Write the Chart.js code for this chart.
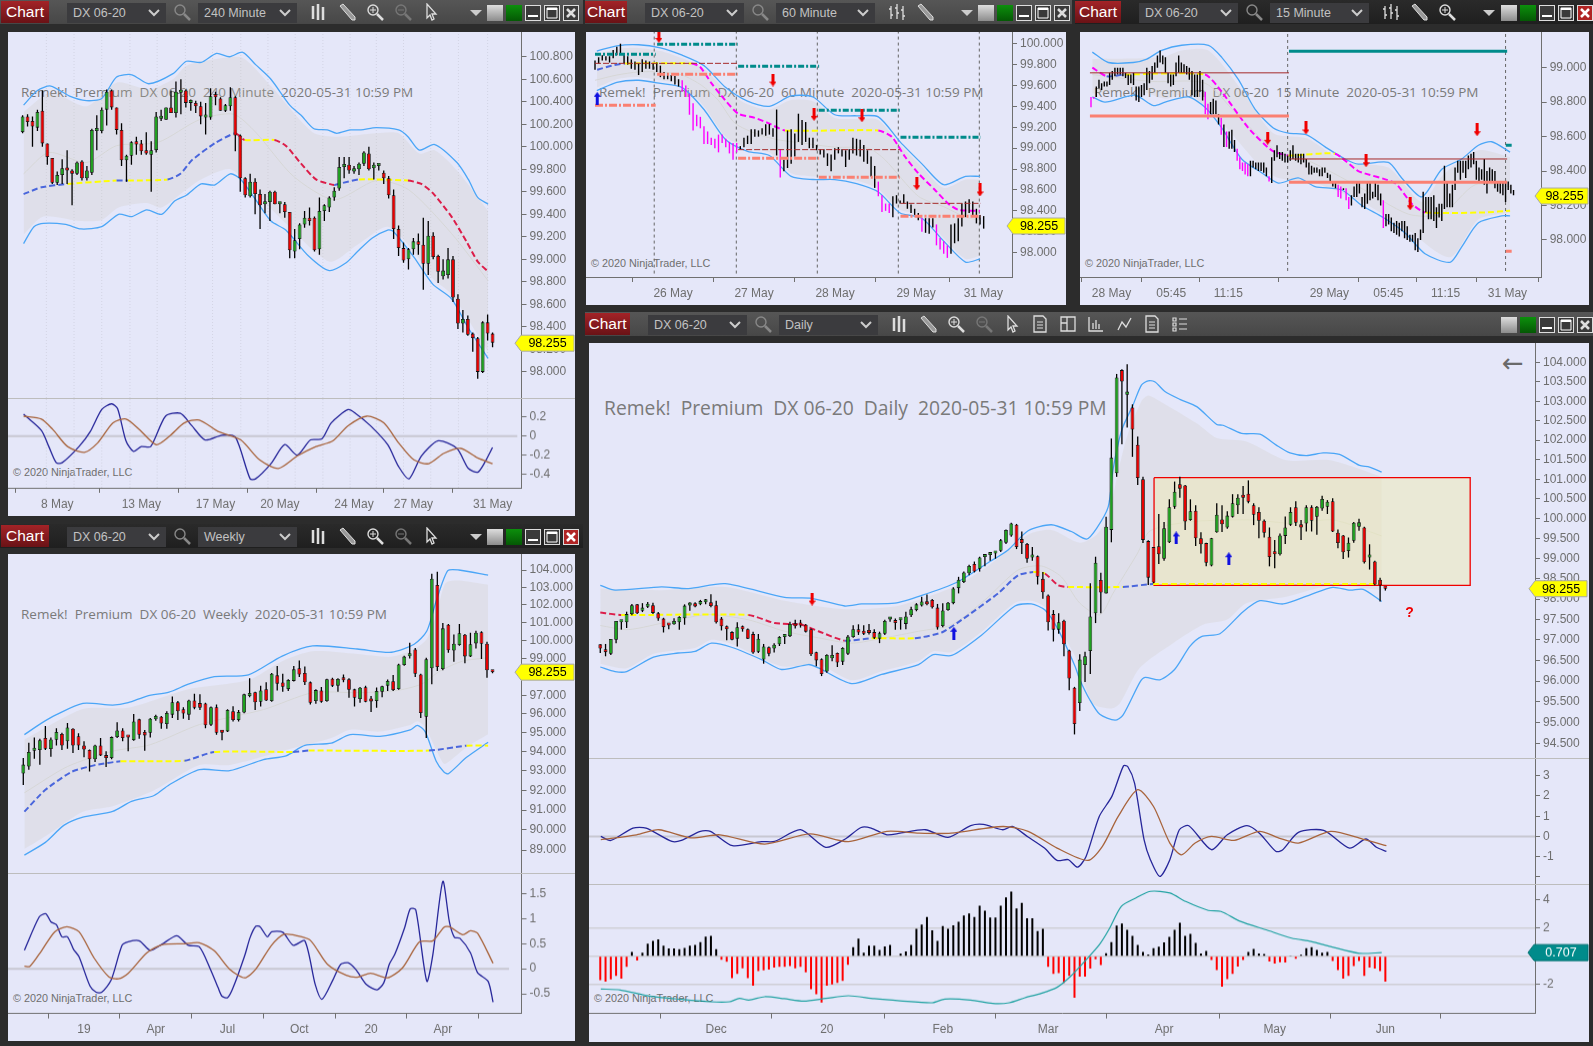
<!DOCTYPE html>
<html>
<head>
<meta charset="utf-8">
<title>DX 06-20</title>
<script src="https://cdn.jsdelivr.net/npm/chart.js@4/dist/chart.umd.js"></script>
<style>
  body { margin:0; width:1593px; height:1046px; overflow:hidden; background:#2c2c2c; font-family:"Liberation Sans",Arial,sans-serif; }
  .panel, .bar, .cmb, .btn, .ic, .wm, .cr, canvas, .back { position:absolute; }
  .panel { background:#e5e7f9; }
  .bar { background:linear-gradient(#565656,#474747); }
  .bar.on { background:linear-gradient(#2a2a2a,#1f1f1f); }
  .btn { background:linear-gradient(#a32327,#6a1216); color:#fff; font-size:15.5px; line-height:21px; text-align:center; }
  .cmb { background:#3b3b3e; color:#c2c2c2; font-size:12.5px; line-height:20px; padding-left:6px; box-sizing:border-box; }
  .wm { color:#7a7a7a; white-space:pre; font-family:"Open Sans",sans-serif; line-height:1; }
  .cr { color:#6e6e6e; font-size:10.8px; white-space:pre; }
  .back { color:#6a6a6a; font:26px "DejaVu Sans"; }
</style>
</head>
<body>
<script>
// shared
const lastPrice = 98.255;
const lastText = '98.255';
const stamp = '2020-05-31 10:59 PM';

// 240 Minute
const h4Open = [100.13,100.27,100.23,100.17,100.32,100.03,99.90,99.68,99.75,99.80,99.79,99.76,99.87,99.72,99.77,100.14,100.14,100.33,100.50,100.35,100.15,99.88,99.92,100.05,100.03,99.97,99.93,99.97,100.25,100.24,100.35,100.30,100.48,100.50,100.39,100.39,100.36,100.26,100.26,100.45,100.43,100.32,100.36,100.44,100.10,99.72,99.56,99.69,99.58,99.49,99.51,99.60,99.49,99.49,99.42,99.07,99.18,99.31,99.37,99.37,99.09,99.43,99.46,99.55,99.63,99.82,99.84,99.78,99.80,99.85,99.94,99.81,99.83,99.77,99.72,99.57,99.27,99.10,99.00,99.09,99.16,99.13,98.96,99.21,99.03,98.85,98.86,99.00,98.65,98.43,98.47,98.34,98.30,98.00,98.44,98.34];
const h4High = [100.28,100.29,100.27,100.33,100.50,100.03,99.90,99.78,99.89,99.97,99.80,99.87,99.88,99.83,100.16,100.28,100.35,100.51,100.51,100.35,100.21,99.93,100.05,100.09,100.06,100.13,100.05,100.31,100.33,100.35,100.50,100.58,100.60,100.51,100.42,100.41,100.40,100.39,100.52,100.49,100.44,100.38,100.53,100.45,100.11,99.73,99.76,99.72,99.62,99.58,99.61,99.61,99.51,99.51,99.42,99.27,99.32,99.43,99.46,99.38,99.55,99.49,99.56,99.64,99.91,99.91,99.91,99.83,99.86,99.96,100.00,99.86,99.84,99.79,99.74,99.62,99.30,99.15,99.10,99.19,99.23,99.37,99.34,99.24,99.04,99.00,99.10,99.03,98.69,98.55,98.50,98.35,98.31,98.45,98.51,98.35];
const h4Low = [100.12,100.18,100.00,100.14,100.00,99.84,99.67,99.66,99.67,99.67,99.48,99.75,99.70,99.70,99.75,99.97,100.12,100.19,100.33,100.11,99.83,99.69,99.84,99.93,99.93,99.93,99.60,99.95,100.23,100.24,100.30,100.26,100.29,100.35,100.32,100.30,100.20,100.11,100.24,100.37,100.32,100.31,100.32,99.96,99.60,99.55,99.55,99.40,99.27,99.41,99.34,99.49,99.41,99.37,99.01,99.01,99.09,99.28,99.30,99.07,99.04,99.34,99.42,99.52,99.61,99.72,99.76,99.76,99.75,99.83,99.79,99.71,99.79,99.67,99.54,99.18,99.03,98.97,98.91,99.04,99.04,98.73,98.86,99.00,98.79,98.82,98.83,98.62,98.38,98.35,98.32,98.18,97.94,97.99,98.28,98.22];
const h4Close = [100.27,100.22,100.18,100.31,100.03,99.91,99.68,99.75,99.81,99.79,99.76,99.86,99.72,99.79,100.15,100.15,100.33,100.49,100.35,100.15,99.88,99.92,100.04,100.02,99.96,99.94,99.97,100.27,100.27,100.35,100.30,100.49,100.50,100.39,100.41,100.36,100.27,100.28,100.45,100.44,100.32,100.37,100.44,100.10,99.72,99.57,99.69,99.58,99.48,99.51,99.60,99.49,99.50,99.42,99.08,99.17,99.31,99.37,99.34,99.08,99.43,99.48,99.55,99.61,99.82,99.83,99.79,99.81,99.85,99.95,99.80,99.84,99.83,99.72,99.57,99.27,99.10,98.99,99.09,99.16,99.13,98.96,99.21,99.02,98.89,98.90,99.00,98.66,98.43,98.47,98.33,98.30,98.00,98.44,98.34,98.26];
const h4UpperX = [0.2,3,5.7,9.5,12.9,16,19,22.1,25.5,30.4,33.1,36.1,39.2,41.8,44.5,47.1,50.2,54,56.3,58.9,61.6,63.5,66.2,68.4,71.5,76,77.9,80.2,83.3,87.8,90.1,92,94.1];
const h4Upper = [100.37,100.50,100.54,100.45,100.41,100.43,100.62,100.64,100.56,100.65,100.76,100.75,100.83,100.80,100.84,100.73,100.60,100.37,100.28,100.16,100.15,100.12,100.15,100.15,100.17,100.15,100.09,99.97,100.02,99.86,99.71,99.55,99.49];
const h4LowerX = [0.2,2.3,4.2,8.7,11.8,16,19.4,22.1,25.1,28.1,30.8,33.1,36.1,38.8,42,44.1,47.1,50.2,53.2,57.8,62,65.4,67.7,70.7,73.8,74.9,79.1,82.9,86.7,90.1,94.1];
const h4Lower = [99.14,99.29,99.32,99.31,99.27,99.29,99.40,99.38,99.44,99.40,99.52,99.57,99.67,99.66,99.76,99.71,99.53,99.34,99.26,99.03,98.90,98.97,99.07,99.19,99.26,99.25,99.02,98.78,98.65,98.39,98.12];
const h4ShadeTopX = [0.2,5.7,12.9,19,25.5,30.4,33.1,39.2,44.5,50.2,58.6,63.5,71.5,76,80.2,83.3,87.8,94.1];
const h4ShadeTop = [100.31,100.48,100.36,100.57,100.51,100.60,100.72,100.78,100.79,100.54,100.13,100.09,100.12,100.12,99.94,99.97,99.79,99.43];
const h4ShadeLowX = [0.2,4.2,11.8,16,19.4,25.1,28.1,33.1,36.1,42,47.1,53.2,62,67.7,73.8,79.1,82.9,86.7,94.1];
const h4ShadeLow = [99.22,99.38,99.34,99.35,99.46,99.50,99.46,99.62,99.71,99.80,99.59,99.32,98.98,99.13,99.29,99.07,98.83,98.69,98.18];
const h4MidX = [0.2,3.8,9.1,19,21.3,29.3,31.9,34.2,38.8,43,44.9,50.9,53.2,56.3,59.3,63,63.9,68,77.9,80.6,82.9,86.7,89.7,92,94.1];
const h4Mid = [99.58,99.64,99.67,99.70,99.70,99.71,99.76,99.88,100.03,100.12,100.06,100.06,100.01,99.85,99.71,99.66,99.67,99.71,99.70,99.67,99.59,99.38,99.16,98.98,98.89];
const h4MidState = ['b','b','y','b','y','b','b','b','b','r','y','r','r','r','r','b','b','y','r','r','r','r','r','r'];
const h4SmaX = [0.2,5.3,12.9,19,27.4,35.7,42.6,47.1,54.7,63,71.5,78,86.7,94.1];
const h4Sma = [99.76,99.95,99.86,100.01,100.04,100.24,100.29,100.13,99.74,99.53,99.70,99.62,99.23,98.81];
const h4BlueX = [0.2,3.8,5.3,6.8,8,11.4,13.7,16,18,19.2,20.9,22.4,24,25.9,28.9,31.9,34.2,36.9,40.3,43,46,47.1,50.2,53,55.5,58.2,60.5,62.4,65.8,67.3,70.3,73.8,76,78.1,80.6,84,87.8,90.1,92,93.5,95];
const h4Blue = [0.23,0.06,-0.11,-0.28,-0.28,-0.11,0.05,0.28,0.34,0.29,-0.05,-0.16,-0.11,-0.11,0.21,0.24,0.11,-0.04,0.01,-0.01,-0.45,-0.45,-0.29,-0.09,-0.20,-0.04,-0.03,0.14,0.28,0.24,0.11,-0.09,-0.32,-0.45,-0.21,-0.05,-0.13,-0.34,-0.38,-0.27,-0.12];
const h4BrownX = [0.2,3.8,6.1,9.1,12.5,15.2,18.3,20.9,23.6,27,29.7,32.7,35.7,39.5,44.1,47.9,51.7,55.5,59.3,62.7,65.8,69.6,73,76,79.1,82.1,85.2,88.6,92,95];
const h4Brown = [0.21,0.18,0.07,-0.11,-0.17,-0.07,0.14,0.18,0.07,-0.09,0,0.14,0.17,0.05,-0.04,-0.25,-0.34,-0.21,-0.11,-0.05,0.11,0.21,0.14,-0.07,-0.25,-0.29,-0.18,-0.13,-0.23,-0.29];
const h4Days = [4.8,10.4,16,21.7,27.2,32.9,38.4,44.1,49.6,55.1,60.7,66.2,71.5,77,82.5,88.1,94];
const h4TickX = [7,24,39,52,67,79,95];
const h4TickLabels = ['8 May','13 May','17 May','20 May','24 May','27 May','31 May'];
const h4Ticks = [98,98.2,98.4,98.6,98.8,99,99.2,99.4,99.6,99.8,100,100.2,100.4,100.6,100.8];
const h4OscTicks = [-0.4,-0.2,0,0.2];

// 60 Minute
const m60High = [99.84,99.87,99.89,99.88,99.88,99.94,99.97,100.00,99.91,99.88,99.85,99.83,99.81,99.85,99.84,99.83,99.81,99.82,99.79,99.73,99.72,99.70,99.69,99.66,99.65,99.60,99.52,99.43,99.32,99.30,99.21,99.16,99.10,99.09,99.13,99.13,99.09,99.06,99.05,99.05,99.02,99.10,99.12,99.18,99.18,99.17,99.19,99.23,99.23,99.19,99.37,98.99,98.89,99.17,99.18,99.14,99.33,99.27,99.25,99.10,99.10,99.03,98.99,98.99,98.95,98.94,99.00,99.01,98.99,98.98,98.99,99.10,99.09,99.08,99.03,98.98,98.92,98.83,98.68,98.55,98.47,98.47,98.54,98.55,98.50,98.56,98.49,98.46,98.42,98.38,98.33,98.33,98.33,98.33,98.27,98.14,98.11,98.07,98.27,98.28,98.33,98.47,98.49,98.51,98.49,98.42,98.36,98.35];
const m60Low = [99.75,99.81,99.84,99.84,99.82,99.86,99.89,99.91,99.81,99.80,99.76,99.75,99.70,99.73,99.76,99.76,99.75,99.73,99.68,99.66,99.66,99.64,99.61,99.59,99.54,99.49,99.32,99.17,99.21,99.19,99.04,99.04,99.03,99.00,98.96,99.05,99.01,98.95,98.89,98.96,98.99,99.01,99.04,99.04,99.11,99.11,99.13,99.12,99.13,99.11,98.93,98.72,98.78,98.81,98.85,98.92,99.06,99.03,99.06,99.00,99.00,98.98,98.94,98.91,98.83,98.78,98.89,98.95,98.92,98.82,98.89,98.95,98.93,98.92,98.87,98.85,98.73,98.62,98.54,98.39,98.40,98.38,98.34,98.47,98.47,98.47,98.42,98.38,98.36,98.31,98.20,98.19,98.18,98.24,98.07,98.03,97.99,97.95,97.99,98.09,98.11,98.25,98.34,98.38,98.36,98.28,98.27,98.23];
const m60Magenta = [24,25,26,27,28,29,30,31,32,33,34,35,36,37,38,39,51,78,79,80,81,90,94,95,96,97];
const m60LineX = [0.5,6,12,18,24,30,36,42,48,54,60,66,72,78,84,90,96,102,106];
const m60Upper = [99.93,99.98,99.99,99.96,99.89,99.79,99.58,99.45,99.40,99.50,99.49,99.32,99.31,99.30,99.06,98.85,98.65,98.73,98.73];
const m60Lower = [99.55,99.63,99.65,99.62,99.58,99.37,99.08,98.97,98.93,98.73,98.70,98.70,98.66,98.58,98.38,98.33,98.11,97.91,97.94];
const m60ShadeTop = [99.90,99.95,99.96,99.93,99.86,99.76,99.55,99.42,99.37,99.46,99.45,99.29,99.28,99.27,99.03,98.82,98.62,98.70,98.70];
const m60ShadeLow = [99.58,99.66,99.68,99.65,99.61,99.40,99.11,99.00,98.96,98.76,98.73,98.73,98.69,98.61,98.41,98.36,98.14,97.94,97.97];
const m60MidX = [0.6,4.6,8.3,26.6,28.9,32.1,35.8,39.4,44,47.7,52.3,78,81.7,85.3,89,93.6,97.2,100,106];
const m60Mid = [99.75,99.79,99.81,99.81,99.78,99.62,99.46,99.33,99.29,99.24,99.17,99.17,99.11,98.92,98.76,98.60,98.47,98.41,98.40];
const m60MidState = ['b','b','y','m','m','m','m','m','m','m','y','m','m','m','m','m','m','m'];
const m60SmaX = [0,6,12,18,24,29.4,33.9,38.5,45,50.5,56.9,66,75.2,79.8,89,96,102,106];
const m60Sma = [99.65,99.70,99.73,99.73,99.70,99.60,99.46,99.24,99.13,99.08,99.05,99.01,99.00,98.89,98.54,98.44,98.34,98.31];
const m60TealFrom = [0,17.1,39.4,61.6,84.1];
const m60TealTo = [16.7,39.3,61.7,83.9,106.2];
const m60Teal = [99.898,99.994,99.783,99.362,99.104];
const m60SalmonFrom = [0,17.1,39.4,61.6,84.1];
const m60SalmonTo = [16.7,39.3,61.7,83.9,106.2];
const m60Salmon = [99.41,99.707,98.903,98.721,98.348];
const m60PivotFrom = [0,39.4,84.1];
const m60PivotTo = [39.3,83.9,106.2];
const m60Pivot = [99.812,98.986,98.472];
const m60DownX = [17.6,49,60.3,73.5,88.6,106];
const m60DownY = [100.07,99.652,99.324,99.31,98.66,98.6];
const m60UpX = [0.6];
const m60UpY = [99.477];
const m60Sessions = [16.3,38.9,61.2,83.5,105.8];
const m60TickX = [21.5,43.8,66.1,88.4,106.9];
const m60TickLabels = ['26 May','27 May','28 May','29 May','31 May'];
const m60Ticks = [98,98.2,98.4,98.6,98.8,99,99.2,99.4,99.6,99.8,100];

// 15 Minute
const m15High = [98.83,98.83,98.89,98.93,98.91,98.92,98.92,98.97,98.98,99.00,99.00,99.00,99.00,98.97,98.96,98.96,98.97,98.89,98.89,98.90,98.91,99.00,98.98,99.01,99.03,99.07,99.10,99.07,99.06,98.97,98.96,98.96,99.03,99.07,99.03,99.02,99.01,99.00,98.98,98.96,98.96,98.98,98.93,98.86,98.79,98.80,98.82,98.81,98.73,98.71,98.67,98.63,98.63,98.64,98.58,98.53,98.48,98.45,98.45,98.44,98.46,98.46,98.45,98.45,98.45,98.45,98.42,98.37,98.48,98.52,98.55,98.51,98.51,98.50,98.49,98.52,98.55,98.50,98.50,98.50,98.50,98.47,98.45,98.43,98.42,98.42,98.41,98.42,98.42,98.39,98.38,98.34,98.33,98.32,98.31,98.30,98.30,98.25,98.26,98.31,98.33,98.33,98.25,98.27,98.33,98.33,98.28,98.33,98.32,98.27,98.23,98.15,98.15,98.13,98.10,98.11,98.10,98.11,98.11,98.08,98.03,98.03,98.04,98.01,98.06,98.28,98.25,98.25,98.25,98.26,98.19,98.21,98.21,98.43,98.34,98.27,98.32,98.42,98.46,98.46,98.46,98.46,98.49,98.50,98.51,98.46,98.42,98.41,98.47,98.40,98.42,98.41,98.40,98.34,98.34,98.33,98.34,98.34,98.32,98.29];
const m15Low = [98.77,98.82,98.83,98.88,98.87,98.89,98.89,98.90,98.93,98.95,98.96,98.96,98.95,98.94,98.90,98.91,98.90,98.81,98.80,98.83,98.84,98.87,98.91,98.93,98.97,99.00,99.03,99.02,98.97,98.91,98.89,98.90,98.95,98.97,98.97,98.97,98.96,98.93,98.84,98.83,98.83,98.86,98.81,98.73,98.70,98.73,98.73,98.73,98.67,98.61,98.54,98.54,98.53,98.53,98.51,98.46,98.41,98.40,98.38,98.37,98.37,98.42,98.41,98.40,98.40,98.39,98.37,98.34,98.33,98.46,98.48,98.47,98.46,98.45,98.45,98.46,98.47,98.46,98.45,98.44,98.45,98.42,98.38,98.38,98.39,98.39,98.37,98.37,98.39,98.36,98.34,98.31,98.30,98.25,98.24,98.29,98.23,98.18,98.20,98.25,98.25,98.27,98.19,98.18,98.21,98.23,98.24,98.25,98.23,98.20,98.07,98.08,98.09,98.05,98.04,98.03,98.02,98.05,98.01,98.00,97.99,97.99,97.94,97.93,98.00,98.04,98.16,98.12,98.12,98.11,98.07,98.13,98.11,98.18,98.19,98.19,98.19,98.29,98.39,98.35,98.39,98.36,98.41,98.42,98.44,98.35,98.34,98.35,98.32,98.27,98.33,98.33,98.30,98.28,98.27,98.26,98.22,98.29,98.27,98.26];
const m15Magenta = [0,1,43,44,49,51,55,56,57,58,59,67,93,94,96,97,110];
const m15UpperX = [0.5,6.5,15.9,21,26.6,34.1,44.2,49.2,55.5,61.7,68.6,74.3,81.2,88.1,95.6,100.6,111.9,116.9,124.5,132,139.5,145.8,150.8,157.7];
const m15Upper = [99.09,99.03,99.03,99.05,99.10,99.13,99.13,99.06,98.93,98.76,98.65,98.62,98.61,98.54,98.47,98.44,98.45,98.36,98.25,98.41,98.47,98.55,98.57,98.51];
const m15LowerX = [0.5,5.3,16.6,23.5,27.9,36.6,42.9,49.2,56.7,64.2,70.5,78,84.3,94.4,101.9,110,118.2,125.7,135.1,139.5,145.8,154.6,157.7];
const m15Lower = [98.83,98.80,98.84,98.78,98.80,98.83,98.77,98.65,98.47,98.39,98.33,98.36,98.31,98.29,98.20,98.13,98.04,97.92,97.87,97.96,98.10,98.14,98.14];
const m15ShadeTopX = [0.5,26.6,34.1,44.2,56.7,68.6,81.2,95.6,111.9,124.5,132,145.8,157.7];
const m15ShadeTop = [99.05,99.06,99.10,99.10,98.87,98.62,98.59,98.45,98.42,98.22,98.37,98.52,98.48];
const m15ShadeLowX = [0.5,16.6,27.9,36.6,49.2,64.2,70.5,84.3,101.9,118.2,135.1,145.8,157.7];
const m15ShadeLow = [98.85,98.87,98.82,98.85,98.68,98.42,98.36,98.33,98.22,98.07,97.90,98.12,98.16];
const m15MidX = [0.5,5.9,12.8,42.9,49.2,59.2,68,74.3,91.8,100.6,114.4,120.7,125.7,148.3,157.7];
const m15Mid = [99.00,98.95,98.96,98.96,98.86,98.65,98.52,98.49,98.50,98.40,98.33,98.21,98.16,98.16,98.17];
const m15MidState = ['m','b','y','m','m','m','m','y','m','m','m','m','y','y'];
const m15SmaX = [0.5,22.8,42.9,54.2,69.3,81.8,100.6,119.4,132,144.5,157.7];
const m15Sma = [98.96,98.92,98.91,98.74,98.52,98.46,98.31,98.15,98.15,98.32,98.31];
const m15TealFrom = [74.5,156.1];
const m15TealTo = [156.6,158.3];
const m15Teal = [99.095,98.55];
const m15SalmonFrom = [-0.4,74.5,156.1];
const m15SalmonTo = [74.5,156.6,158.3];
const m15Salmon = [98.72,98.335,97.935];
const m15PivotFrom = [-0.4,74.5];
const m15PivotTo = [74.5,156.6];
const m15Pivot = [98.97,98.47];
const m15DownX = [66.5,80.9,103.5,120.1,145.3];
const m15DownY = [98.59,98.65,98.46,98.21,98.64];
const m15Sessions = [74,156];
const m15TickX = [7.7,30.2,51.7,89.7,111.9,133.4,156.7];
const m15TickLabels = ['28 May','05:45','11:15','29 May','05:45','11:15','31 May'];
const m15Ticks = [98,98.2,98.4,98.6,98.8,99];

// Weekly
const wkOpen = [92.87,93.23,94.05,94.09,94.72,94.14,94.63,94.93,94.55,95.21,94.82,94.33,94.09,93.61,94.33,93.81,93.67,94.77,95.12,94.81,94.61,95.71,95.04,95.00,95.71,95.85,95.46,95.96,96.63,96.25,95.96,96.72,96.58,96.56,95.42,96.36,95.04,95.07,96.14,95.67,96.07,96.96,97.16,96.65,97.33,96.69,98.08,97.69,97.33,97.78,98.47,98.21,97.70,96.69,97.26,96.69,97.90,97.52,97.85,97.87,97.32,96.80,97.44,96.72,96.69,97.19,97.52,97.76,97.33,98.65,99.13,99.50,98.13,95.85,98.47,103.14,98.43,100.88,99.45,99.75,100.32,99.12,99.84,100.46,99.82,98.26];
const wkHigh = [93.68,94.47,94.75,94.68,95.35,94.75,95.24,95.00,95.51,95.24,94.97,94.55,94.12,94.37,94.72,94.03,94.80,95.55,95.24,94.81,96.00,95.74,95.15,95.78,95.96,95.89,96.14,96.94,96.69,96.36,96.76,97.08,97.05,96.60,96.39,96.50,95.14,96.25,96.41,96.21,97.08,97.92,97.19,97.52,97.70,98.21,98.59,98.17,97.87,98.59,98.90,98.57,97.74,97.32,97.45,97.90,97.95,97.92,98.13,97.92,97.35,97.45,97.51,96.96,97.42,97.52,97.85,98.10,98.72,99.15,99.88,99.59,98.17,99.04,103.78,103.90,100.98,100.93,100.34,100.93,100.37,100.43,100.55,100.52,99.93,98.30];
const wkLow = [92.28,93.06,93.63,93.32,94.09,93.74,94.33,94.09,94.16,93.94,94.09,93.71,92.98,93.46,93.78,93.21,93.61,94.72,94.55,94.03,94.58,94.68,94.05,94.75,95.64,95.21,95.21,95.78,95.67,95.74,95.67,96.25,96.21,95.24,95.35,94.89,94.61,95.04,95.60,95.60,96.03,96.90,96.21,96.40,96.69,96.65,97.26,97.19,97.23,97.74,97.99,97.56,96.51,96.54,96.60,96.65,97.45,97.19,97.70,96.87,96.40,96.60,96.62,96.10,96.33,96.90,97.23,97.23,97.30,98.61,99.00,97.99,95.78,94.72,97.60,98.32,98.36,99.32,98.83,99.71,98.75,99.09,99.56,98.98,97.95,98.20];
const wkClose = [93.33,93.99,94.20,94.61,94.16,94.64,95.04,94.33,95.28,94.33,94.33,94.12,93.61,94.33,93.81,93.67,94.77,95.12,94.72,94.75,95.60,94.89,94.86,95.74,95.89,95.49,96.05,96.63,96.14,96.02,96.72,96.33,96.33,95.39,96.36,95.00,95.00,96.21,95.67,96.10,97.05,97.10,96.62,97.26,96.72,98.17,97.63,97.46,97.83,98.41,98.13,97.70,96.60,97.28,96.65,97.87,97.51,97.88,97.81,97.30,96.87,97.41,96.65,96.67,97.23,97.49,97.78,97.28,98.68,99.11,99.28,98.17,96.05,98.97,103.50,98.54,100.68,99.46,99.82,100.41,99.12,99.79,100.43,99.82,98.36,98.255];
const wkUpperX = [0.2,3.3,6,10.8,16.2,19,22.4,26.4,29.9,34.6,40.8,46.9,52.4,60.5,66.7,70.8,73.1,74.8,76.9,78.9,84.2];
const wkUpper = [94.9,95.51,95.96,96.56,96.47,96.6,96.96,97.17,97.6,98.01,98.11,99.14,99.7,99.53,99.35,99.79,100.53,102.22,103.96,104,103.7];
const wkLowerX = [0.2,4,7.4,10.8,16.2,19.6,23.7,26.4,31.9,37.4,43.5,47.6,51,55.8,59.2,64.6,70.1,71.4,72.8,74.8,76.2,77,80.3,84.2];
const wkLower = [88.75,89.38,90.24,90.64,90.93,91.44,91.74,92.28,93.07,93.02,93.59,93.79,94.33,94.45,94.9,94.81,95.15,95.39,95.06,93.51,92.95,92.86,93.71,94.5];
const wkShadeTopX = [0.2,10.8,19,29.9,40.8,46.9,52.4,60.5,66.7,70.8,73.1,74.8,76.5,78.9,84.2];
const wkShadeTop = [94.64,96.26,96.33,97.33,97.83,98.86,99.4,99.25,99.1,99.51,100.08,101.44,103.25,103.4,103.15];
const wkShadeLowX = [0.2,4,10.8,16.2,23.7,31.9,37.4,47.6,55.8,59.2,64.6,70.1,71.4,72.8,74.8,76.2,77,80.3,84.2];
const wkShadeLow = [89.05,89.68,90.92,91.2,92.01,93.31,93.31,94.09,94.72,95.16,95.06,95.41,95.61,95.31,94.09,93.37,93.46,94.24,94.92];
const wkMidX = [0.2,4,8.7,12.8,17.6,29.2,34.6,48.9,51.7,73.5,80.3,84.2];
const wkMid = [90.92,92.03,92.95,93.29,93.5,93.53,93.99,93.99,94.06,94.06,94.32,94.32];
const wkMidState = ['b','b','b','b','y','b','y','b','y','b','y'];
const wkSmaX = [0.2,8,16.2,23,31.9,43.5,52.4,60.5,67.3,72.1,75.5,79.6,84.2];
const wkSma = [91.88,93.23,94.03,94.37,95.43,96.23,97.14,97.14,97.24,97.6,98.32,98.86,99.05];
const wkBlueX = [0.2,2.9,4.1,5,6,7,8,9.1,10.1,12.1,13.2,14.2,15.9,17.9,19,21,23,25.1,27.8,29.9,31.9,33.9,35.3,36,37,38,40.1,41.1,42.1,42.9,44.2,45,47,48.9,51,52.9,54.1,56.1,57.5,58.8,60.2,62.2,64.1,65.3,66.3,67.3,69.1,70.1,71.1,73.1,74.2,76,77.2,78.1,79.1,81,82.3,84.2,85.1];
const wkBlue = [0.37,1.04,1.1,0.94,0.88,0.64,0.64,0.39,0.24,-0.35,-0.47,-0.47,-0.23,0.47,0.54,0.56,0.37,0.49,0.66,0.47,0.44,-0.01,-0.38,-0.55,-0.58,-0.38,0.26,0.63,0.85,0.84,0.64,0.74,0.73,0.47,0.56,-0.32,-0.61,-0.22,0.09,0.12,-0.01,-0.32,-0.42,-0.28,0.09,0.29,0.83,1.2,1.18,-0.25,0.29,1.75,0.93,0.63,0.61,0.32,-0.08,-0.25,-0.67];
const wkBrownX = [0.2,1.2,3.3,5.7,7.9,10.1,12.8,15.5,17.2,19,22.4,25.1,29.2,31.9,34.6,37.4,40.1,42.1,44.9,47.2,49.6,52,55.1,58.5,60.5,62.9,66,68.7,71.8,74.2,76.2,77.2,79.6,81,82.3,85.1];
const wkBrown = [0.05,0.05,0.36,0.74,0.84,0.74,0.22,-0.16,-0.2,-0.09,0.32,0.48,0.5,0.52,0.36,-0.01,-0.18,-0.01,0.46,0.69,0.66,0.57,0.09,-0.13,-0.17,-0.09,-0.18,0.02,0.54,0.56,0.83,0.84,0.68,0.76,0.71,0.11];
const wkTickX = [11,24,37,50,63,76];
const wkTickLabels = ['19','Apr','Jul','Oct','20','Apr'];
const wkTicks = [89,90,91,92,93,94,95,96,97,98,99,100,101,102,103,104];
const wkOscTicks = [-0.5,0,0.5,1,1.5];

// Daily
const dayOpen = [96.89,96.75,96.66,97.00,97.43,97.43,97.63,97.87,97.71,97.81,97.85,97.65,97.52,97.38,97.38,97.43,97.53,97.84,97.90,97.87,97.92,97.92,97.85,97.52,97.31,97.19,97.03,97.31,97.26,97.14,96.71,96.52,96.82,96.79,96.89,97.07,97.09,97.39,97.36,97.37,97.26,96.70,96.53,96.23,96.55,96.68,96.47,96.66,97.07,97.26,97.21,97.19,97.19,97.03,97.15,97.50,97.48,97.48,97.39,97.60,97.73,97.84,97.92,97.98,97.79,97.34,97.73,97.90,98.27,98.42,98.64,98.87,98.75,99.04,99.09,99.13,99.20,99.40,99.58,99.85,99.49,99.37,99.03,99.06,98.50,98.09,97.63,97.25,97.47,96.74,95.84,95.47,96.39,96.73,97.65,98.47,98.14,99.72,101.15,103.81,103.17,102.84,101.88,101.00,99.44,99.29,99.31,99.00,99.41,100.30,100.87,100.84,99.97,100.20,99.51,99.39,98.83,99.66,99.98,99.78,100.05,100.34,100.60,100.63,100.34,100.17,99.95,99.55,99.13,99.11,99.57,99.85,100.29,99.86,99.88,100.29,100.05,100.26,100.30,100.44,99.65,99.58,99.19,99.45,99.80,99.78,99.03,98.93,98.48,98.27];
const dayHigh = [96.89,96.90,97.02,97.46,97.45,97.69,97.88,97.88,97.90,97.93,97.91,97.68,97.54,97.38,97.53,97.58,97.87,97.92,97.92,97.98,98.00,98.12,97.96,97.56,97.35,97.21,97.43,97.35,97.28,97.20,97.14,96.90,96.84,96.92,97.09,97.14,97.44,97.49,97.49,97.39,97.28,96.71,96.55,96.65,96.87,96.69,96.82,97.12,97.36,97.38,97.36,97.39,97.26,97.20,97.49,97.56,97.52,97.53,97.69,97.81,97.90,98.06,98.11,98.00,97.88,97.90,97.93,98.29,98.55,98.68,98.85,98.93,99.05,99.09,99.15,99.18,99.49,99.73,99.90,99.87,99.68,99.39,99.29,99.08,98.67,98.11,97.73,97.65,97.49,96.76,95.86,96.65,96.71,98.39,99.05,98.65,100.05,102.04,103.71,103.83,103.96,102.92,102.09,101.06,99.46,99.29,100.12,99.92,100.49,100.94,101.06,100.85,100.49,100.34,99.66,99.40,99.52,100.39,100.34,100.19,100.62,100.62,100.83,100.97,100.39,100.29,99.98,99.78,99.47,99.63,100.06,100.29,100.44,99.97,100.34,100.34,100.32,100.58,100.47,100.52,99.73,99.59,99.53,99.92,100.00,99.80,99.36,98.95,98.53,98.31];
const dayLow = [96.68,96.60,96.63,96.92,97.25,97.29,97.60,97.63,97.68,97.78,97.63,97.47,97.18,97.26,97.37,97.25,97.37,97.71,97.80,97.85,97.87,97.80,97.40,97.23,96.99,96.99,96.84,97.20,97.02,96.66,96.68,96.42,96.60,96.69,96.85,96.90,97.07,97.28,97.30,97.18,96.61,96.36,96.12,96.20,96.48,96.34,96.39,96.63,97.05,97.12,97.12,97.13,97.02,96.92,97.12,97.44,97.25,97.25,97.26,97.56,97.70,97.82,97.85,97.77,97.25,97.31,97.71,97.87,98.14,98.40,98.59,98.66,98.68,98.81,98.95,99.00,99.17,99.37,99.55,99.24,99.12,98.90,98.95,98.36,98.01,97.23,96.96,97.15,96.60,95.78,94.72,95.28,95.98,96.17,97.41,97.65,98.14,99.41,101.06,101.89,102.32,101.57,100.85,99.39,98.35,98.39,98.87,98.95,99.39,100.25,100.53,99.72,99.95,99.32,99.13,98.81,98.81,99.65,99.67,99.75,100.03,100.12,100.12,100.39,99.84,99.51,99.53,98.81,98.76,99.08,99.37,99.82,99.82,99.47,99.68,99.68,99.60,100.20,100.12,99.67,99.26,98.99,99.03,99.40,99.70,98.88,98.73,98.34,97.94,98.21];
const dayClose = [96.79,96.70,97.02,97.46,97.43,97.63,97.85,97.65,97.79,97.88,97.66,97.52,97.31,97.35,97.46,97.56,97.84,97.90,97.82,97.95,97.95,97.83,97.43,97.33,97.26,97.00,97.31,97.26,97.03,96.69,97.03,96.84,96.66,96.88,97.07,97.09,97.39,97.33,97.35,97.20,96.65,96.50,96.17,96.63,96.63,96.45,96.80,97.08,97.26,97.18,97.15,97.17,97.05,97.16,97.46,97.52,97.41,97.50,97.57,97.75,97.87,97.94,97.87,97.80,97.30,97.72,97.91,98.26,98.48,98.66,98.82,98.68,99.03,99.06,99.11,99.15,99.46,99.72,99.88,99.29,99.39,99.00,99.08,98.55,98.17,97.43,97.25,97.43,96.89,96.06,94.97,96.52,96.60,97.57,98.90,98.16,99.80,101.55,103.62,103.51,103.25,102.27,101.03,99.47,98.53,98.41,99.11,99.76,100.29,100.68,100.76,99.93,100.19,99.51,99.36,98.90,99.51,100.10,99.86,100.08,100.39,100.53,100.53,100.43,100.10,99.95,99.65,99.04,99.11,99.58,99.78,100.17,99.90,99.78,100.29,99.95,100.30,100.50,100.43,99.68,99.39,99.16,99.40,99.90,99.91,98.91,99.08,98.36,98.34,98.255];
const dayUpperX = [0,2.8,11.6,16.7,23.7,35,40.1,46.4,49.6,55.9,61,67.6,73.6,77.4,81.2,85.6,89.4,92.3,94.2,96.4,97.3,98.3,99.2,101.1,102.7,104,105.3,107.1,110,113.2,117,118.2,121.7,125.2,128.3,130.9,134,137.2,140.3,144.1,146,148.3];
const dayUpper = [98.34,98.22,98.3,98.26,98.38,98.04,98.02,97.83,97.88,97.9,98.09,98.41,98.9,99.22,99.7,99.85,99.68,99.49,99.76,100.3,101.23,101.91,102.34,102.9,103.42,103.53,103.5,103.26,103.05,102.86,102.4,102.38,102.17,102.15,101.87,101.67,101.6,101.67,101.63,101.35,101.31,101.18];
const dayLowerX = [0,2.8,5,10.1,14.8,18,21.1,24.9,30.6,34.4,39.5,41.4,47.7,53.4,60.4,63.2,66.7,72.4,78.7,81.8,84.4,86.9,90.1,91,92.9,94.8,97.7,99.2,102.4,103.4,106.2,109,111.9,114.1,117.6,122,125.2,129.6,134.6,139,142.3,144.8,148.3];
const dayLower = [96.34,96.23,96.23,96.58,96.68,96.72,96.92,96.82,96.52,96.28,96.4,96.32,95.94,96.16,96.4,96.64,96.62,97.12,97.83,97.88,97.73,97.25,96.36,96.04,95.55,95.2,95.06,95.18,95.97,96.09,96.03,96.28,96.84,97.08,97.15,97.69,97.96,97.88,98.1,98.29,98.22,98.24,97.94];
const dayShadeTopX = [0,11.6,23.7,35,46.4,55.9,61,67.6,73.6,81.2,85.6,91,94.2,96.4,98.3,100,102.7,104,106.2,113.2,117,122.6,130.2,138.5,148.3];
const dayShadeTop = [98.26,98.22,98.3,97.96,97.75,97.82,98.01,98.33,98.82,99.6,99.72,99.4,99.6,100.05,101.2,102.1,103,103.15,103,102.43,102.05,101.96,101.48,101.48,101.06];
const dayShadeLowX = [0,5,10.1,18,21.1,24.9,34.4,41.4,47.7,53.4,60.4,63.2,66.7,72.4,78.7,81.8,84.4,86.9,90.1,93.5,97,98.6,102.4,108.7,114.4,118.9,122.6,130.2,139,148.3];
const dayShadeLow = [96.42,96.31,96.66,96.8,97,96.9,96.36,96.4,96.02,96.24,96.48,96.72,96.7,97.2,97.91,97.96,97.81,97.33,96.6,95.46,95.34,95.46,96.32,96.92,97.37,97.49,97.9,98.06,98.34,98.22];
const dayMidX = [0,4,28.1,33.1,38.2,41.4,46.4,51.5,59.7,64.8,68.6,75.5,79.3,82.2,84.4,86.9,88.8,99.2,104.9,148.3];
const dayMid = [97.67,97.61,97.61,97.41,97.37,97.21,96.98,97.04,97.04,97.18,97.49,98.14,98.59,98.67,98.63,98.34,98.3,98.3,98.37,98.37];
const dayMidState = ['r','y','r','r','r','r','b','y','b','b','b','b','b','y','r','r','y','b','y'];
const daySmaX = [0,5.3,13.5,20.5,28.1,35,41.4,47.7,54,60.4,66.7,73,79.3,83.7,87.5,91,94.8,97.3,101.9,104.4,112.5,123.9,131.5,139.1,148.3];
const daySma = [97.35,97.25,97.46,97.62,97.49,97.21,97.05,96.92,97.05,97.21,97.37,97.98,98.72,98.82,98.55,97.9,97.61,98.14,99.12,99.7,99.93,99.97,99.88,99.97,99.57];
const dayBoxX = [105.1,165.1,165.1,105.1,105.1];
const dayBoxY = [101.04,101.04,98.34,98.34,101.04];
const dayDownX = [40.2];
const dayDownY = [98.0];
const dayUpX = [67.1,109.3,119.3];
const dayUpY = [97.16,99.52,99.0];
const dayBlueX = [0.1,2,6.2,8.7,13.6,15.4,19,20.9,25.1,30.6,33.1,38,42.8,46.5,49.5,51.4,54.4,56.9,61.7,66,70.3,72.7,76.4,78.2,81.2,84.3,86.7,88.8,90.6,92.2,94.7,97.1,99.3,100.1,101.4,103.2,104.4,106.2,108.1,109.9,111.7,116,119,122.7,125.1,128.2,129.4,132.5,137.3,142.2,145.3,147.3,149.2];
const dayBlue = [0,-0.2,0.41,0.41,-0.25,-0.2,0.25,0.25,-0.46,-0.26,-0.25,0.33,-0.54,-0.13,0.44,0.41,0.08,0.16,0.33,-0.05,0.53,0.59,0.33,0.49,-0.03,-0.58,-1.19,-1.15,-1.52,-0.99,0.99,1.98,3.49,3.46,2.64,-0.16,-1.15,-1.98,-1.15,0.33,0.53,-0.66,0.08,0.53,0.16,-0.74,-0.69,0.2,0.3,-0.58,-0.13,-0.54,-0.74];
const dayBrownX = [0.1,6.9,11.1,17.2,22.7,31.2,39.8,47.1,54.4,60.5,66.6,76.4,81.2,86.7,92.5,95.3,98.3,102,105,108.1,110.3,112.9,116,120.3,125.1,128.8,132.5,138.6,144.7,149.2];
const dayBrown = [-0.16,0.08,0.33,-0.07,0.08,-0.38,0.12,-0.26,0.25,0.16,0.16,0.49,0.25,-0.58,-1.19,-0.49,0.99,2.31,1.48,-0.33,-0.91,-0.33,0,-0.2,0.25,-0.08,-0.33,0.25,-0.13,-0.46];
const dayHist = [-1.7,-1.8,-1.65,-1.4,-1.6,-0.75,0.3,-0.3,0.25,0.9,1.1,1.2,0.75,0.55,0.55,0.5,0.6,0.75,0.8,1,1.4,1.45,0.5,-0.25,-0.4,-1.55,-1.25,-0.85,-1.55,-2.1,-1.05,-1,-0.95,-0.8,-0.75,-0.75,-0.7,-0.85,-0.75,-1.15,-2.35,-2.7,-3.3,-2.1,-2,-1.9,-1.75,-0.6,0.65,1.25,0.25,0.75,0.75,0.45,0.7,0.8,0,0.2,0.35,0.8,1.95,2.25,2.8,1.85,1.1,2.15,1.95,2.2,2.45,2.9,3.05,2.8,3.6,3.25,2.75,2.75,3.6,4.2,4.6,3.4,3.8,2.7,2.7,1.8,1.95,-0.75,-1.25,-1.2,-1.9,-1.4,-2.95,-1.45,-1.45,-0.88,-0.21,-0.62,0.21,1,2.19,2.33,1.88,1.45,0.81,0.31,0.12,0.57,0.69,0.98,1.38,1.88,2.38,1.45,1.6,0.95,0.19,0.38,-0.26,-0.98,-2.17,-1.62,-1.26,-0.74,-0.26,0.31,0.52,0.19,0.17,-0.38,-0.52,-0.43,-0.45,0.05,-0.17,0.1,0.57,0.64,0.45,0.26,0.31,-0.33,-0.98,-1.6,-1.4,-0.69,-0.33,-1.4,-0.81,-0.88,-1.05,-1.81];
const dayTealX = [0.1,3.8,9.3,15.4,20.9,24.5,26.4,28.2,31.2,34.9,38.6,42.8,47.1,52,56.9,63,65.4,70.3,74.5,77.6,80.6,83.7,86.7,89.2,92.2,94.7,96.5,98.9,101.4,104.4,108.1,111.1,115.4,117.8,121.5,126.4,131.2,134.9,138.6,144,148.3];
const dayTeal = [-2.33,-2.4,-2.83,-3.07,-3.24,-3.24,-3,-3.12,-2.88,-3.02,-3.19,-3,-2.81,-3.02,-3.17,-3.31,-3.05,-3.12,-3.36,-3.31,-2.95,-2.64,-2.21,-1.45,-0.26,0.81,1.88,3.55,4.1,4.62,4.5,3.9,3.26,3.19,2.48,1.88,1.29,1.05,0.69,0.21,0.26];
const dayTickX = [22,43,65,85,107,128,149];
const dayTickLabels = ['Dec','20','Feb','Mar','Apr','May','Jun'];
const dayTicks = [94.5,95,95.5,96,96.5,97,97.5,98,98.5,99,99.5,100,100.5,101,101.5,102,102.5,103,103.5,104];
const dayOscTicks = [-2,-1,0,1,2,3];
const dayHistTicks = [-2,0,2,4];
const dayOscBlank = [-2];

// colours and draw helpers
const midColors = { y:'#ffff00', b:'#4a66dc', r:'#dc1e4a', m:'#ff00ff' };
const GREEN = '#1fa01f', RED = '#e80000', BAND = '#4ba6f7', SHADE = 'rgba(199,196,174,0.2)', SMA = '#d6d6d6';
const NAVY = '#26269a', BROWN = '#a8643c', TEAL = '#008b8b', SALMON = '#fa8072', PIVOT = '#a52a2a';

function arrowImage(color, up) {
  const c = document.createElement('canvas');
  c.width = 7; c.height = 13;
  const g = c.getContext('2d');
  g.fillStyle = color;
  g.beginPath();
  if (up) { g.moveTo(3.5,0); g.lineTo(7,5); g.lineTo(5,5); g.lineTo(5,13); g.lineTo(2,13); g.lineTo(2,5); g.lineTo(0,5); }
  else { g.moveTo(2,0); g.lineTo(5,0); g.lineTo(5,8); g.lineTo(7,8); g.lineTo(3.5,13); g.lineTo(0,8); g.lineTo(2,8); }
  g.closePath(); g.fill();
  return c;
}
const redDown = arrowImage('#f00000', false);
const blueUp = arrowImage('#1010e0', true);

function line(xs, ys, color, width, order, extra) {
  return Object.assign({
    type:'line', data:xs.map((x,i)=>({x,y:ys[i]})), borderColor:color, borderWidth:width,
    pointRadius:0, tension:0.25, fill:false, order
  }, extra || {});
}
function shade(topX, top, lowX, low) {
  return [
    line(topX, top, 'rgba(0,0,0,0)', 0, 60, {fill:'+1', backgroundColor:SHADE}),
    line(lowX, low, 'rgba(0,0,0,0)', 0, 61)
  ];
}
function midLine(xs, ys, state) {
  return line(xs, ys, midColors.y, 2, 30, {
    tension:0.2, borderDash:[6,3],
    segment:{ borderColor:c => midColors[state[c.p0DataIndex]] }
  });
}
function floatBars(xs, los, his, colors, width, order, edge) {
  return {
    type:'bar', data:los.map((v,i)=>({x:xs ? xs[i] : i, y:[v,his[i]]})),
    backgroundColor:colors, borderColor:edge ? '#101010' : colors, borderWidth:edge ? 0.8 : 0,
    borderSkipped:false, inflateAmount:0, grouped:false, barPercentage:1, categoryPercentage:1,
    maxBarThickness:width, minBarLength:edge ? 3 : 1, order
  };
}
function candles(op, hi, lo, cl, width) {
  const fills = op.map((o,i)=> cl[i] >= o ? GREEN : RED);
  return [
    floatBars(null, lo, hi, '#000000', 1.3, 11, false),
    floatBars(null, op, cl, fills, width, 10, true)
  ];
}
function stickBars(hi, lo, magenta) {
  const cols = hi.map((v,i)=> magenta.includes(i) ? '#ff00ff' : '#000000');
  return [floatBars(null, lo, hi, cols, 1.4, 10, false)];
}
function levels(from, to, vals, color, width, dash, order) {
  return vals.map((v,i)=> line([from[i],to[i]], [v,v], color, width, order, {borderDash:dash, tension:0}));
}
function verticals(xs, yA, yB, color, dash, width, order) {
  return xs.map(x => line([x,x],[yA,yB],color,width,order,{borderDash:dash,tension:0}));
}
function marks(xs, ys, img) {
  return line(xs, ys, 'rgba(0,0,0,0)', 0, 1, {showLine:false, pointStyle:img, pointRadius:6});
}

// price tag and the question mark live on the canvas next to the scale
const tagPlugin = {
  id:'tag',
  afterDraw(chart) {
    const t = chart.config.options.tagInfo;
    const y = chart.scales.y, g = chart.ctx;
    if (t) {
      const py = y.getPixelForValue(t.value), L = t.left, R = t.right, h = 8;
      g.save();
      g.beginPath();
      g.moveTo(L, py); g.lineTo(L+6, py-h); g.lineTo(R, py-h); g.lineTo(R, py+h); g.lineTo(L+6, py+h); g.closePath();
      g.fillStyle = t.fill; g.fill();
      g.strokeStyle = t.edge; g.lineWidth = 1; g.stroke();
      g.fillStyle = t.color;
      g.font = '12.5px "Liberation Sans"';
      g.textAlign = 'center'; g.textBaseline = 'middle';
      g.fillText(t.text, (L+6+R)/2, py+0.5);
      g.restore();
    }
    const n = chart.config.options.noteInfo;
    if (n) {
      g.save();
      g.fillStyle = '#f00000'; g.font = 'bold 14px "Liberation Sans"';
      g.textAlign = 'center'; g.textBaseline = 'middle';
      g.fillText(n.text, chart.scales.x.getPixelForValue(n.x), y.getPixelForValue(n.y));
      g.restore();
    }
  }
};

function pane(p) {
  const cv = document.createElement('canvas');
  cv.width = p.w; cv.height = p.h;
  cv.style.left = p.x + 'px'; cv.style.top = p.y + 'px';
  cv.style.width = p.w + 'px'; cv.style.height = p.h + 'px';
  document.body.appendChild(cv);
  const tickFont = {family:'"Liberation Sans"', size:12};
  const fmt = p.fmt || (v => String(v));
  const xList = p.xTicks || [];
  return new Chart(cv.getContext('2d'), {
    type:'bar',
    data:{ datasets:p.sets },
    plugins:[tagPlugin],
    options:{
      responsive:false, animation:false, events:[],
      tagInfo:p.tag, noteInfo:p.note,
      layout:{ padding:0, autoPadding:false },
      plugins:{ legend:{display:false}, tooltip:{enabled:false}, title:{display:false} },
      scales:{
        x:{
          type:'linear', min:p.xMin, max:p.xMax, offset:false, display:!!p.xTicks,
          grid:{ drawOnChartArea:false, color:'#707070', tickLength:5 },
          border:{ color:'#707070' },
          ticks:{ autoSkip:false, maxRotation:0, minRotation:0, color:'#6e6e6e', font:tickFont, padding:4,
            callback:v => { const i = xList.indexOf(v); return i < 0 ? '' : p.xLabels[i]; } },
          afterBuildTicks:s => { if (p.xTicks) s.ticks = p.xTicks.map(v=>({value:v})); },
          afterFit:s => { s.height = p.xH || 0; s.paddingLeft = 0; s.paddingRight = 0; }
        },
        y:{
          type:p.log ? 'logarithmic' : 'linear', position:'right', min:p.yMin, max:p.yMax,
          grid:{ drawOnChartArea:false, color:'#707070', tickLength:5 },
          border:{ color:'#707070' },
          ticks:{ autoSkip:false, color:'#6e6e6e', font:tickFont, padding:3, callback:v => fmt(v) },
          afterBuildTicks:s => { s.ticks = p.yTicks.map(v=>({value:v})); },
          afterFit:s => { s.width = p.axisW; s.paddingTop = 0; s.paddingBottom = 0; }
        }
      }
    }
  });
}

const icons = {
  bars:'<path d="M3 3v13M8 1v16M13 4v13" stroke="#ddd" stroke-width="2.5"/>',
  ticks:'<path d="M3 3v13M1 6h2M3 12h2M9 1v15M7 5h2M9 10h2M15 3v14M13 7h2M15 13h2" stroke="#ddd" stroke-width="1.3" fill="none"/>',
  pencil:'<path d="M2 3l3-2 12 13 0 3-3 0z" stroke="#ddd" fill="#999"/>',
  plus:'<circle cx="7" cy="7" r="5" fill="none" stroke="#ddd" stroke-width="1.4"/><path d="M4 7h6M7 4v6" stroke="#ddd"/><path d="M11 11l6 6" stroke="#ddd" stroke-width="2.5"/>',
  minus:'<circle cx="7" cy="7" r="5" fill="none" stroke="#777" stroke-width="1.4"/><path d="M4 7h6" stroke="#777"/><path d="M11 11l6 6" stroke="#777" stroke-width="2.5"/>',
  search:'<circle cx="7" cy="7" r="5" fill="none" stroke="#888" stroke-width="1.4"/><path d="M11 11l6 6" stroke="#888" stroke-width="2.5"/>',
  cursor:'<path d="M5 1v14l3-3 2 5 2-1-2-5h4z" fill="none" stroke="#ddd" stroke-width="1.3"/>',
  doc:'<path d="M3 1h9l3 3v13H3z" fill="none" stroke="#ddd" stroke-width="1.3"/><path d="M6 7h6M6 10h6M6 13h6" stroke="#ddd"/>',
  frame:'<path d="M2 2h14v14H2zM8 2v14M2 8h6" fill="none" stroke="#ddd" stroke-width="1.3"/>',
  plot:'<path d="M2 2v14h14M6 14V8M9 14V5M12 14V9" fill="none" stroke="#ddd" stroke-width="1.3"/>',
  nodes:'<path d="M3 15l4-8 4 5 5-9" fill="none" stroke="#ddd" stroke-width="1.3"/>',
  list:'<path d="M2 3h3v3H2zM2 8h3v3H2zM2 13h3v3H2zM8 4h8M8 9h8M8 14h8" fill="none" stroke="#ddd" stroke-width="1.2"/>',
  chev:'<path d="M4 6l5 5 5-5" fill="none" stroke="#ccc" stroke-width="2"/>',
  caret:'<path d="M3 7h12l-6 6z" fill="#ccc"/>',
  min:'<rect x=".5" y=".5" width="15" height="15" fill="#3a3a3a" stroke="#ddd"/><path d="M3 11h10" stroke="#fff" stroke-width="2"/>',
  max:'<rect x=".5" y=".5" width="15" height="15" fill="#3a3a3a" stroke="#ddd"/><path d="M3 3h10v10H3z" fill="none" stroke="#fff"/><path d="M3 4h10" stroke="#fff" stroke-width="2"/>',
  close:'<rect x=".5" y=".5" width="15" height="15" fill="#3a3a3a" stroke="#ddd"/><path d="M4 4l8 8M12 4l-8 8" stroke="#ddd" stroke-width="2.5"/>',
  closeRed:'<rect x=".5" y=".5" width="15" height="15" fill="#b02424" stroke="#ddd"/><path d="M4 4l8 8M12 4l-8 8" stroke="#fff" stroke-width="2.5"/>',
  gray:'<defs><linearGradient id="gg" x1="0" y1="0" x2="0" y2="1"><stop offset="0" stop-color="#ddd"/><stop offset="1" stop-color="#8c8c8c"/></linearGradient></defs><rect width="16" height="16" fill="url(#gg)"/>',
  green:'<defs><linearGradient id="gn" x1="0" y1="0" x2="0" y2="1"><stop offset="0" stop-color="#0c8f0c"/><stop offset="1" stop-color="#045804"/></linearGradient></defs><rect width="16" height="16" fill="url(#gn)"/>'
};
function el(cls, x, y, w, h, html) {
  const d = document.createElement('div');
  d.className = cls;
  d.style.cssText = `left:${x}px;top:${y}px;width:${w}px;height:${h}px`;
  if (html !== undefined) d.innerHTML = html;
  document.body.appendChild(d);
  return d;
}
function icon(kind, x, y) {
  el('ic', x, y, 18, 18, `<svg width="18" height="18" viewBox="0 0 18 18">${icons[kind]}</svg>`);
}
function toolbar(t) {
  el('bar' + (t.on ? ' on' : ''), t.x, t.y, t.w, 24);
  el('btn', t.x + t.btnX, t.y + 1, t.btnW, 22, 'Chart');
  el('cmb', t.c1, t.y + 3, 99, 20, 'DX 06-20');
  icon('chev', t.c1 + 78, t.y + 4);
  icon('search', t.c1 + 106, t.y + 3);
  el('cmb', t.c2, t.y + 3, 99, 20, t.tf);
  icon('chev', t.c2 + 78, t.y + 4);
  t.tools.forEach((k,i)=> icon(k, t.c2 + 112 + i * 28, t.y + 3));
  if (t.caret) icon('caret', t.caret, t.y + 3);
  const wb = t.wins;
  ['gray','green','min','max', t.red ? 'closeRed' : 'close'].forEach((k,i)=> {
    el('ic', wb + i * 19, t.y + 5, 16, 16, `<svg width="16" height="16" viewBox="0 0 16 16">${icons[k]}</svg>`);
  });
}
function wm(text, x, cy, size) {
  const d = el('wm', x, cy - size * 0.62, 600, size * 1.3, text);
  d.style.fontSize = size + 'px';
}
function copyright(x, cy) {
  el('cr', x, cy - 7, 200, 14, '\u00a9 2020 NinjaTrader, LLC');
}

// window frames
el('panel', 8, 32, 567, 484);
el('panel', 586, 32, 480, 273);
el('panel', 1080, 32, 509, 273);
el('panel', 8, 553.5, 567, 487.5);
el('panel', 589, 342.7, 1000, 699);

toolbar({x:0,y:0,w:583,btnX:1,btnW:48,c1:67,c2:198,tf:'240 Minute',tools:['bars','pencil','plus','minus','cursor'],caret:467,wins:487});
toolbar({x:585,y:0,w:487,btnX:0,btnW:42,c1:645,c2:776,tf:'60 Minute',tools:['ticks','pencil'],caret:958,wins:978});
toolbar({x:1075,y:0,w:518,btnX:0,btnW:46,c1:1139,c2:1270,tf:'15 Minute',tools:['ticks','pencil','plus'],caret:1480,wins:1501,on:true,red:true});
toolbar({x:0,y:524,w:583,btnX:1,btnW:48,c1:67,c2:198,tf:'Weekly',tools:['bars','pencil','plus','minus','cursor'],caret:467,wins:487,on:true,red:true});
toolbar({x:585,y:312,w:1008,btnX:0,btnW:45,c1:648,c2:779,tf:'Daily',tools:['bars','pencil','plus','minus','cursor','doc','frame','plot','nodes','doc','list'],wins:1501});

// watermark text sits under the canvases
wm(`Remek!  Premium  DX 06-20  240 Minute  ${stamp}`, 21, 94, 13.5);
wm(`Remek!  Premium  DX 06-20  60 Minute  ${stamp}`, 599, 94, 13.5);
wm(`Remek!  Premium  DX 06-20  15 Minute  ${stamp}`, 1094, 94, 13.5);
wm(`Remek!  Premium  DX 06-20  Weekly  ${stamp}`, 21, 616, 13.5);
wm(`Remek!  Premium  DX 06-20  Daily  ${stamp}`, 604, 410, 19.3);
copyright(13, 473); copyright(591, 264); copyright(1085, 264); copyright(13, 999); copyright(594, 999);
el('back', 1502, 348, 30, 30, '\u2190');

const price3 = v => v.toFixed(3);
const yellowTag = (left, right) => ({value:lastPrice, text:lastText, fill:'#ffff00', color:'#000', edge:'#a8a8a8', left, right});

// 240 Minute
pane({ x:8, y:32, w:567, h:366, axisW:53.5, xMin:-2.95, xMax:100.85, yMin:97.768, yMax:101.02, yTicks:h4Ticks, fmt:price3,
  tag:yellowTag(507,566),
  sets:[
    ...shade(h4ShadeTopX,h4ShadeTop,h4ShadeLowX,h4ShadeLow),
    ...verticals(h4Days,97.768,101.02,'#d3d4e4',[1,2],1,70),
    line(h4SmaX,h4Sma,SMA,1,50),
    line(h4UpperX,h4Upper,BAND,1.3,40), line(h4LowerX,h4Lower,BAND,1.3,40),
    midLine(h4MidX,h4Mid,h4MidState),
    ...candles(h4Open,h4High,h4Low,h4Close,3.8)
  ]});
pane({ x:8, y:398, w:567, h:117.5, axisW:53.5, xH:28, xMin:-2.95, xMax:100.85, yMin:-0.544, yMax:0.401, yTicks:h4OscTicks,
  xTicks:h4TickX, xLabels:h4TickLabels,
  sets:[
    ...verticals(h4Days,-0.544,0.401,'#d3d4e4',[1,2],1,70),
    line([-2.95,100],[0,0],'#c8c8d2',2,60,{tension:0}),
    line(h4BlueX,h4Blue,NAVY,1.3,20), line(h4BrownX,h4Brown,BROWN,1.3,10)
  ]});

// 60 Minute
pane({ x:586, y:32, w:480, h:273, axisW:54, xH:28, xMin:-2.48, xMax:114.8, yMin:97.767, yMax:100.112, yTicks:m60Ticks, fmt:price3,
  xTicks:m60TickX, xLabels:m60TickLabels, tag:yellowTag(421,479),
  sets:[
    ...shade(m60LineX,m60ShadeTop,m60LineX,m60ShadeLow),
    line(m60SmaX,m60Sma,SMA,1,50),
    ...verticals(m60Sessions,97.80,100.112,'#666666',[3,3],1,45),
    line(m60LineX,m60Upper,BAND,1.3,40), line(m60LineX,m60Lower,BAND,1.3,40),
    midLine(m60MidX,m60Mid,m60MidState),
    ...stickBars(m60High,m60Low,m60Magenta),
    ...levels(m60TealFrom,m60TealTo,m60Teal,TEAL,3,[6,2,2,2],5),
    ...levels(m60SalmonFrom,m60SalmonTo,m60Salmon,SALMON,3,[8,2,2,2],5),
    ...levels(m60PivotFrom,m60PivotTo,m60Pivot,PIVOT,1,[6,2],6),
    marks(m60DownX,m60DownY,redDown), marks(m60UpX,m60UpY,blueUp)
  ]});

// 15 Minute
pane({ x:1080, y:32, w:509, h:273, axisW:47.3, xH:28, xMin:-4.14, xMax:169.6, yMin:97.785, yMax:99.207, yTicks:m15Ticks, fmt:price3,
  xTicks:m15TickX, xLabels:m15TickLabels, tag:yellowTag(455,508),
  sets:[
    ...shade(m15ShadeTopX,m15ShadeTop,m15ShadeLowX,m15ShadeLow),
    line(m15SmaX,m15Sma,SMA,1,50),
    ...verticals(m15Sessions,97.82,99.207,'#666666',[3,3],1,45),
    line(m15UpperX,m15Upper,BAND,1.3,40), line(m15LowerX,m15Lower,BAND,1.3,40),
    midLine(m15MidX,m15Mid,m15MidState),
    ...stickBars(m15High,m15Low,m15Magenta),
    ...levels(m15TealFrom,m15TealTo,m15Teal,TEAL,3,[],5),
    ...levels(m15SalmonFrom,m15SalmonTo,m15Salmon,SALMON,3,[],5),
    ...levels(m15PivotFrom,m15PivotTo,m15Pivot,PIVOT,1,[],6),
    marks(m15DownX,m15DownY,redDown)
  ]});

// Weekly
pane({ x:8, y:553.5, w:567, h:319.9, axisW:53.5, log:true, xMin:-2.77, xMax:90.25, yMin:87.87, yMax:104.93, yTicks:wkTicks, fmt:price3,
  tag:yellowTag(507,566),
  sets:[
    ...shade(wkShadeTopX,wkShadeTop,wkShadeLowX,wkShadeLow),
    line(wkSmaX,wkSma,SMA,1,50),
    line(wkUpperX,wkUpper,BAND,1.3,40), line(wkLowerX,wkLower,BAND,1.3,40),
    midLine(wkMidX,wkMid,wkMidState),
    ...candles(wkOpen,wkHigh,wkLow,wkClose,3.8)
  ]});
pane({ x:8, y:873.4, w:567, h:167.6, axisW:53.5, xH:27.4, xMin:-2.77, xMax:90.25, yMin:-0.894, yMax:1.916, yTicks:wkOscTicks,
  xTicks:wkTickX, xLabels:wkTickLabels,
  sets:[
    line([-2.77,88],[0,0],'#c8c8d2',2,60,{tension:0}),
    line(wkBlueX,wkBlue,NAVY,1.3,20), line(wkBrownX,wkBrown,BROWN,1.3,10)
  ]});

// Daily
const dayColsH = dayHist.map(v => v >= 0 ? '#000000' : '#ff0000');
pane({ x:589, y:342.7, w:1000, h:415.6, axisW:54, log:true, xMin:-2.14, xMax:177.4, yMin:94.16, yMax:104.52, yTicks:dayTicks, fmt:price3,
  tag:yellowTag(940,998), note:{x:153.6,y:97.66,text:'?'},
  sets:[
    ...shade(dayShadeTopX,dayShadeTop,dayShadeLowX,dayShadeLow),
    line(daySmaX,daySma,SMA,1,50),
    line(dayBoxX,dayBoxY,'#f00000',1.3,45,{tension:0, fill:'shape', backgroundColor:'rgba(240,236,180,0.5)'}),
    line(dayUpperX,dayUpper,BAND,1.3,40), line(dayLowerX,dayLower,BAND,1.3,40),
    midLine(dayMidX,dayMid,dayMidState),
    ...candles(dayOpen,dayHigh,dayLow,dayClose,3.8),
    marks(dayDownX,dayDownY,redDown), marks(dayUpX,dayUpY,blueUp)
  ]});
pane({ x:589, y:758.3, w:1000, h:126, axisW:54, xMin:-2.14, xMax:177.4, yMin:-2.356, yMax:3.88, yTicks:dayOscTicks,
  fmt:v => dayOscBlank.includes(v) ? '' : String(v),
  sets:[
    line([-2.14,177.4],[0,0],'#c8c8d2',2,60,{tension:0}),
    line(dayBlueX,dayBlue,NAVY,1.3,20), line(dayBrownX,dayBrown,BROWN,1.3,10)
  ]});
const dayGuide = [-2,0,2];
pane({ x:589, y:884.3, w:1000, h:157.4, axisW:54, xH:28.4, xMin:-2.14, xMax:177.4, yMin:-4.07, yMax:5.14, yTicks:dayHistTicks,
  xTicks:dayTickX, xLabels:dayTickLabels,
  tag:{value:dayTeal[dayTeal.length-1], text:'0.707', fill:TEAL, color:'#fff', edge:'#007070', left:939, right:999},
  sets:[
    ...dayGuide.map(v => line([-2.14,177.4],[v,v],'#cfcfd6',1.5,60,{tension:0})),
    {type:'bar', data:dayHist.map((v,i)=>({x:i,y:v})), backgroundColor:dayColsH, borderWidth:0, inflateAmount:0,
     grouped:false, barPercentage:1, categoryPercentage:1, maxBarThickness:2, order:20},
    line(dayTealX,dayTeal,'#22a3a3',1.2,10)
  ]});

// pane dividers
[[8,398,567],[8,873.4,567],[589,758.3,1000],[589,884.3,1000]].forEach(d => {
  const b = el('ic', d[0], d[1], d[2], 1); b.style.background = '#bdbdbd';
});
</script>
</body>
</html>
